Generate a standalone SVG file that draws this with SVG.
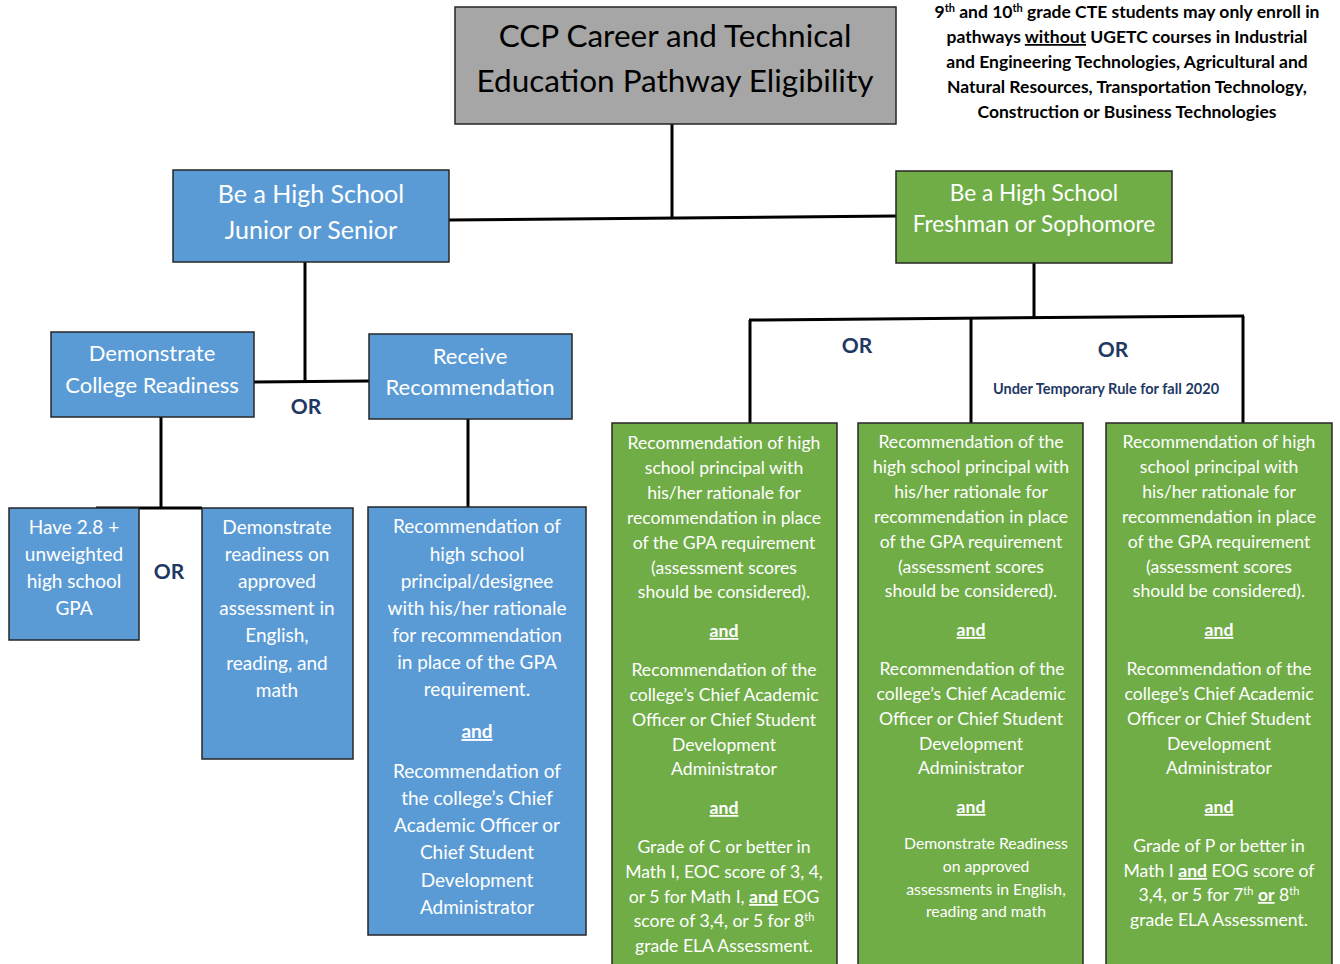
<svg xmlns="http://www.w3.org/2000/svg" width="1340" height="964" viewBox="0 0 1340 964">
<style>
text{font-family:Lato,"Open Sans","Liberation Sans",sans-serif;text-anchor:middle}
.box{stroke:#262626;stroke-width:1.5}
.blue{fill:#5b9bd5}
.green{fill:#70ad47}
.gray{fill:#a6a6a6}
.w{fill:#ffffff}
.or{fill:#1f3864;font-weight:bold;font-size:21px}
.u{text-decoration:underline;font-weight:bold}
.conn{stroke:#000;stroke-width:3;fill:none}
.note{font-weight:bold;font-size:17.5px;fill:#000}
.gt{font-size:17.6px}
.bt{font-size:19px}
</style>
<rect width="1340" height="964" fill="#ffffff"/>
<g id="connectors">
<line class="conn" x1="672" y1="124" x2="672" y2="218"/>
<line class="conn" x1="449" y1="220" x2="896" y2="216"/>
<line class="conn" x1="305" y1="262" x2="305" y2="382"/>
<line class="conn" x1="254" y1="382" x2="369" y2="381"/>
<line class="conn" x1="161" y1="417" x2="161" y2="508"/>
<line class="conn" x1="96" y1="508" x2="202" y2="508"/>
<line class="conn" x1="468" y1="419" x2="468" y2="507"/>
<line class="conn" x1="1034" y1="263" x2="1034" y2="318"/>
<line class="conn" x1="749" y1="320" x2="1244" y2="316"/>
<line class="conn" x1="750" y1="320" x2="750" y2="424"/>
<line class="conn" x1="971" y1="319" x2="971" y2="423"/>
<line class="conn" x1="1243" y1="316" x2="1243" y2="424"/>
</g>
<g id="title">
<rect class="box gray" x="455" y="7" width="441" height="117"/>
<text x="675" y="47" font-size="31.5" fill="#000">CCP Career and Technical</text>
<text x="675" y="92" font-size="31.5" fill="#000">Education Pathway Eligibility</text>
</g>
<g id="note">
<text class="note" x="1127" y="18">9<tspan font-size="11" dy="-6">th</tspan><tspan dy="6"> and 10</tspan><tspan font-size="11" dy="-6">th</tspan><tspan dy="6"> grade CTE students may only enroll in</tspan></text>
<text class="note" x="1127" y="43">pathways <tspan text-decoration="underline">without</tspan> UGETC courses in Industrial</text>
<text class="note" x="1127" y="68">and Engineering Technologies, Agricultural and</text>
<text class="note" x="1127" y="93">Natural Resources, Transportation Technology,</text>
<text class="note" x="1127" y="118">Construction or Business Technologies</text>
</g>
<g id="junior-senior">
<rect class="box blue" x="173" y="170" width="276" height="92"/>
<text class="w" x="311" y="203" font-size="25">Be a High School</text>
<text class="w" x="311" y="239" font-size="25">Junior or Senior</text>
</g>
<g id="freshman-sophomore">
<rect class="box green" x="896" y="171" width="276" height="92"/>
<text class="w" x="1034" y="201" font-size="22.6">Be a High School</text>
<text class="w" x="1034" y="232" font-size="22.6">Freshman or Sophomore</text>
</g>
<g id="or-left-top"><text class="or" x="306" y="414">OR</text></g>
<g id="college-readiness">
<rect class="box blue" x="51" y="332" width="203" height="85"/>
<text class="w" x="152" y="361" font-size="22">Demonstrate</text>
<text class="w" x="152" y="393" font-size="22">College Readiness</text>
</g>
<g id="receive-recommendation">
<rect class="box blue" x="369" y="334" width="203" height="85"/>
<text class="w" x="470" y="364" font-size="22">Receive</text>
<text class="w" x="470" y="395" font-size="22">Recommendation</text>
</g>
<g id="gpa">
<rect class="box blue" x="9" y="508" width="130" height="132"/>
<text class="w bt"><tspan x="74" y="534">Have 2.8 +</tspan><tspan x="74" y="561">unweighted</tspan><tspan x="74" y="588">high school</tspan><tspan x="74" y="615">GPA</tspan></text>
</g>
<g id="or-left-bottom"><text class="or" x="169" y="579">OR</text></g>
<g id="readiness-assessment">
<rect class="box blue" x="202" y="508" width="151" height="251"/>
<text class="w bt"><tspan x="277" y="534">Demonstrate</tspan><tspan x="277" y="561">readiness on</tspan><tspan x="277" y="588">approved</tspan><tspan x="277" y="615">assessment in</tspan><tspan x="277" y="642">English,</tspan><tspan x="277" y="670">reading, and</tspan><tspan x="277" y="697">math</tspan></text>
</g>
<g id="recommendation-principal">
<rect class="box blue" x="368" y="507" width="218" height="428"/>
<text class="w bt"><tspan x="477" y="533">Recommendation of</tspan><tspan x="477" y="561">high school</tspan><tspan x="477" y="588">principal/designee</tspan><tspan x="477" y="615">with his/her rationale</tspan><tspan x="477" y="642">for recommendation</tspan><tspan x="477" y="669">in place of the GPA</tspan><tspan x="477" y="696">requirement.</tspan></text>
<text class="w u bt" x="477" y="738">and</text>
<text class="w bt"><tspan x="477" y="778">Recommendation of</tspan><tspan x="477" y="805">the college’s Chief</tspan><tspan x="477" y="832">Academic Officer or</tspan><tspan x="477" y="859">Chief Student</tspan><tspan x="477" y="887">Development</tspan><tspan x="477" y="914">Administrator</tspan></text>
</g>
<g id="or-right-1"><text class="or" x="857" y="353">OR</text></g>
<g id="or-right-2">
<text class="or" x="1113" y="357">OR</text>
<text x="1106" y="394" font-size="14.5" font-weight="bold" fill="#1f3864">Under Temporary Rule for fall 2020</text>
</g>
<g id="green-option-1">
<rect class="box green" x="612" y="423" width="225" height="560"/>
<text class="w gt"><tspan x="724" y="449">Recommendation of high</tspan><tspan x="724" y="474">school principal with</tspan><tspan x="724" y="499">his/her rationale for</tspan><tspan x="724" y="524">recommendation in place</tspan><tspan x="724" y="549">of the GPA requirement</tspan><tspan x="724" y="574">(assessment scores</tspan><tspan x="724" y="598">should be considered).</tspan></text>
<text class="w u gt" x="724" y="637">and</text>
<text class="w gt"><tspan x="724" y="676">Recommendation of the</tspan><tspan x="724" y="701">college’s Chief Academic</tspan><tspan x="724" y="726">Officer or Chief Student</tspan><tspan x="724" y="751">Development</tspan><tspan x="724" y="775">Administrator</tspan></text>
<text class="w u gt" x="724" y="814">and</text>
<text class="w gt"><tspan x="724" y="853">Grade of C or better in</tspan><tspan x="724" y="878">Math I, EOC score of 3, 4,</tspan><tspan x="724" y="903">or 5 for Math I, <tspan class="u">and</tspan> EOG</tspan><tspan x="724" y="927">score of 3,4, or 5 for 8<tspan font-size="11" dy="-6">th</tspan></tspan><tspan x="724" y="952">grade ELA Assessment.</tspan></text>
</g>
<g id="green-option-2">
<rect class="box green" x="858" y="423" width="225" height="560"/>
<text class="w gt"><tspan x="971" y="448">Recommendation of the</tspan><tspan x="971" y="473">high school principal with</tspan><tspan x="971" y="498">his/her rationale for</tspan><tspan x="971" y="523">recommendation in place</tspan><tspan x="971" y="548">of the GPA requirement</tspan><tspan x="971" y="573">(assessment scores</tspan><tspan x="971" y="597">should be considered).</tspan></text>
<text class="w u gt" x="971" y="636">and</text>
<text class="w gt"><tspan x="972" y="675">Recommendation of the</tspan><tspan x="971" y="700">college’s Chief Academic</tspan><tspan x="971" y="725">Officer or Chief Student</tspan><tspan x="971" y="750">Development</tspan><tspan x="971" y="774">Administrator</tspan></text>
<text class="w u gt" x="971" y="813">and</text>
<text class="w" font-size="15.8"><tspan x="986" y="849">Demonstrate Readiness</tspan><tspan x="986" y="872">on approved</tspan><tspan x="986" y="895">assessments in English,</tspan><tspan x="986" y="917">reading and math</tspan></text>
</g>
<g id="green-option-3">
<rect class="box green" x="1106" y="423" width="226" height="560"/>
<text class="w gt"><tspan x="1219" y="448">Recommendation of high</tspan><tspan x="1219" y="473">school principal with</tspan><tspan x="1219" y="498">his/her rationale for</tspan><tspan x="1219" y="523">recommendation in place</tspan><tspan x="1219" y="548">of the GPA requirement</tspan><tspan x="1219" y="573">(assessment scores</tspan><tspan x="1219" y="597">should be considered).</tspan></text>
<text class="w u gt" x="1219" y="636">and</text>
<text class="w gt"><tspan x="1219" y="675">Recommendation of the</tspan><tspan x="1219" y="700">college’s Chief Academic</tspan><tspan x="1219" y="725">Officer or Chief Student</tspan><tspan x="1219" y="750">Development</tspan><tspan x="1219" y="774">Administrator</tspan></text>
<text class="w u gt" x="1219" y="813">and</text>
<text class="w gt"><tspan x="1219" y="852">Grade of P or better in</tspan><tspan x="1219" y="877">Math I <tspan class="u">and</tspan> EOG score of</tspan><tspan x="1219" y="901">3,4, or 5 for 7<tspan font-size="11" dy="-6">th</tspan><tspan dy="6"> </tspan><tspan class="u">or</tspan> 8<tspan font-size="11" dy="-6">th</tspan></tspan><tspan x="1219" y="926">grade ELA Assessment.</tspan></text>
</g>
</svg>
